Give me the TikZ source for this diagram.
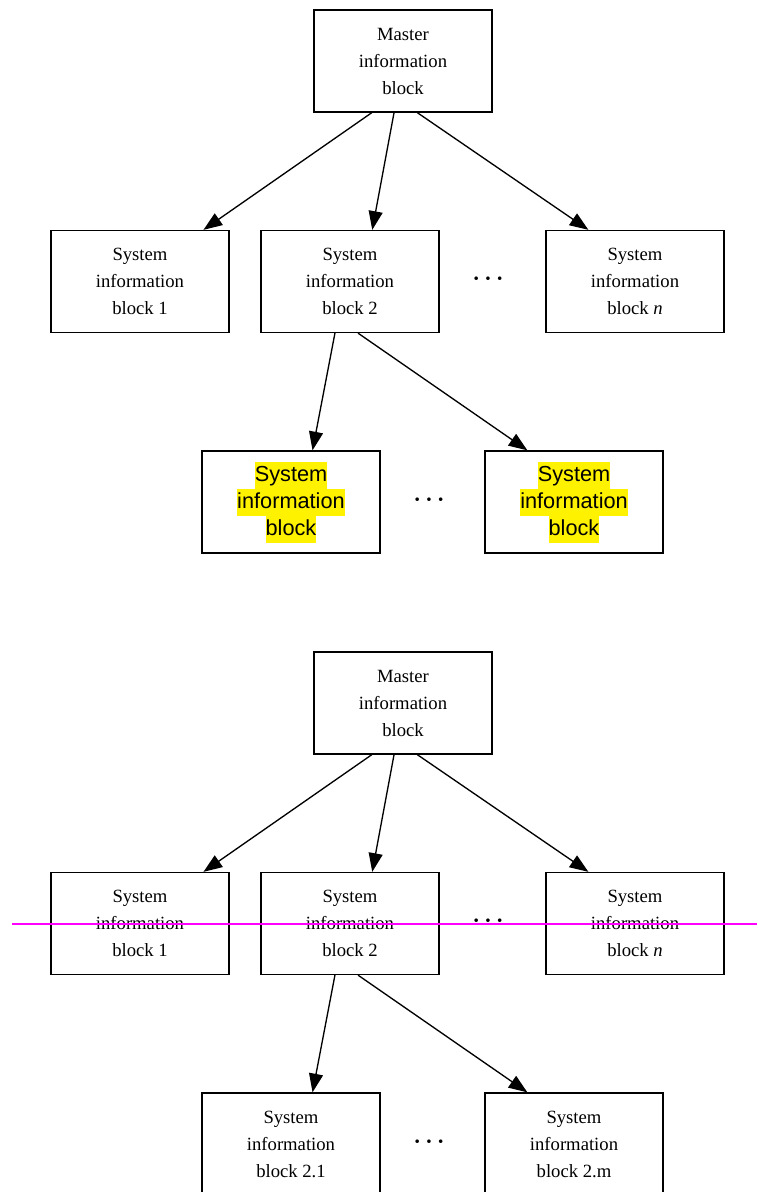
\documentclass[tikz,border=0pt]{standalone}
\usepackage{fontspec}
\setmainfont{Liberation Serif}
\newfontfamily\hlfont{Liberation Sans}
\usepackage{xcolor}
\usepackage{tikz}
\usetikzlibrary{calc,arrows.meta}
\definecolor{cutpink}{HTML}{FF00FF}
\newcommand{\hlline}[1]{{\setlength{\fboxsep}{0pt}\colorbox{yellow}{\hlfont\fontsize{16.3pt}{20.25pt}\selectfont\rule[-5pt]{0pt}{20.25pt}#1}}}
\tikzset{
  blockbox/.style={draw, line width=1pt, minimum width=133.5pt, minimum height=76.5pt,
    inner sep=0pt, align=center, font=\fontsize{14pt}{20.25pt}\selectfont},
  link/.style={draw, line width=1pt, -{Triangle[length=14pt,width=10.5pt]}},
  gapdots/.style={inner sep=0pt, font=\fontsize{16pt}{20pt}\selectfont\boldmath},
  cutline/.style={draw=cutpink, line width=1.1pt},
}

\begin{document}
\begin{tikzpicture}[x=0.75pt,y=-0.75pt]
  \clip (0,0) rectangle (757,1192);

  % first tree, highlighted leaves
  \node[blockbox] (m1) at (403,61) {Master\\information\\block};
  \node[blockbox] (a1) at (140,281.5) {System\\information\\block 1};
  \node[blockbox] (b1) at (350,281.5) {System\\information\\block 2};
  \node[gapdots] (d1) at (488,279) {$\cdots$};
  \node[blockbox] (n1) at (635,281.5) {System\\information\\block \textit{n}};
  \node[blockbox] (p1) at (291,502) {\hlline{System}\\\hlline{information}\\\hlline{block}};
  \node[gapdots] (e1) at (429,500) {$\cdots$};
  \node[blockbox] (q1) at (574,502) {\hlline{System}\\\hlline{information}\\\hlline{block}};

  \draw[link] ($(m1.south west)!0.326!(m1.south east)$) -- ($(a1.north west)!0.854!(a1.north east)$);
  \draw[link] ($(m1.south west)!0.45!(m1.south east)$) -- ($(b1.north west)!0.624!(b1.north east)$);
  \draw[link] ($(m1.south west)!0.58!(m1.south east)$) -- ($(n1.north west)!0.24!(n1.north east)$);
  \draw[link] ($(b1.south west)!0.416!(b1.south east)$) -- ($(p1.north west)!0.62!(p1.north east)$);
  \draw[link] ($(b1.south west)!0.545!(b1.south east)$) -- ($(q1.north west)!0.24!(q1.north east)$);

  % second tree, numbered leaves
  \node[blockbox] (m2) at (403,703) {Master\\information\\block};
  \node[blockbox] (a2) at (140,923.5) {System\\information\\block 1};
  \node[blockbox] (b2) at (350,923.5) {System\\information\\block 2};
  \node[gapdots] (d2) at (488,921) {$\cdots$};
  \node[blockbox] (n2) at (635,923.5) {System\\information\\block \textit{n}};
  \node[blockbox] (p2) at (291,1144) {System\\information\\block 2.1};
  \node[gapdots] (e2) at (429,1142) {$\cdots$};
  \node[blockbox] (q2) at (574,1144) {System\\information\\block 2.m};

  \draw[link] ($(m2.south west)!0.326!(m2.south east)$) -- ($(a2.north west)!0.854!(a2.north east)$);
  \draw[link] ($(m2.south west)!0.45!(m2.south east)$) -- ($(b2.north west)!0.624!(b2.north east)$);
  \draw[link] ($(m2.south west)!0.58!(m2.south east)$) -- ($(n2.north west)!0.24!(n2.north east)$);
  \draw[link] ($(b2.south west)!0.416!(b2.south east)$) -- ($(p2.north west)!0.62!(p2.north east)$);
  \draw[link] ($(b2.south west)!0.545!(b2.south east)$) -- ($(q2.north west)!0.24!(q2.north east)$);

  \draw[cutline] (12,924) -- (757,924); % stray mark line
\end{tikzpicture}
\end{document}
